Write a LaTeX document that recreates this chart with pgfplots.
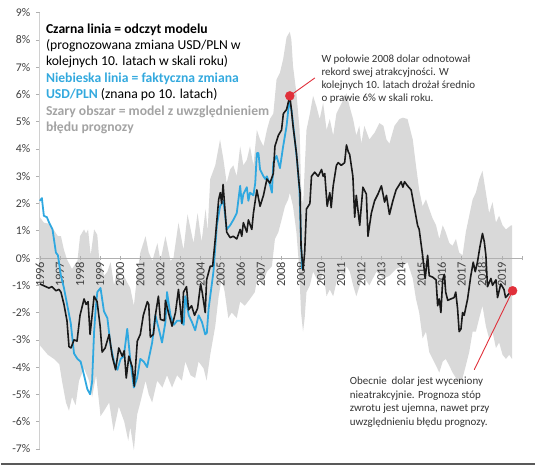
\documentclass[border=0pt]{standalone}
\usepackage{pgfplots}
\pgfplotsset{compat=1.18}
\usepackage{fontspec}
\setmainfont{Carlito}
\definecolor{bandgray}{HTML}{D9D9D9}
\definecolor{bluel}{HTML}{2FA8E0}
\definecolor{bluet}{HTML}{33A9DE}
\definecolor{grayt}{HTML}{A3A3A3}
\definecolor{redd}{HTML}{E0303A}
\definecolor{tickc}{HTML}{404040}
\definecolor{annc}{HTML}{333333}
\definecolor{axc}{HTML}{B0B0B0}
\begin{document}
\begin{tikzpicture}[x=1pt,y=1pt]
\path (0,0) rectangle (536,467);
\begin{axis}[
  set layers=standard,
  at={(39pt,16.5pt)}, anchor=south west,
  scale only axis, width=484pt, height=437.7pt,
  xmin=1996, xmax=2020, ymin=-7, ymax=9,
  clip=false,
  axis x line=middle, axis y line=left,
  axis line style={-, draw=axc, line width=0.8pt},
  y axis line style={draw=axc!60},
  hide obscured x ticks=false, hide obscured y ticks=false,
  xtick={1996,...,2020},
  xticklabels={1996,1997,1998,1999,2000,2001,2002,2003,2004,2005,2006,2007,2008,2009,2010,2011,2012,2013,2014,2015,2016,2017,2018,2019,},
  ytick={-7,...,9},
  yticklabels={-7\%,-6\%,-5\%,-4\%,-3\%,-2\%,-1\%,0\%,1\%,2\%,3\%,4\%,5\%,6\%,7\%,8\%,9\%},
  xticklabel style={rotate=90, anchor=east, font=\fontsize{12.5}{13}\selectfont, text=tickc, inner sep=1.5pt},
  yticklabel style={font=\fontsize{11.8}{12}\selectfont, text=tickc, xshift=-2pt},
  x tick style={draw=axc, line width=0.6pt},
  y tick style={draw=axc, line width=0.6pt},
  xtick align=center, ytick align=outside,
  major tick length=4pt,
]
% grey band (upper forward, lower backward)
\addplot[on layer=axis background, fill=bandgray, draw=none] coordinates {
(1996.0,1.5)(1996.2,1.3)(1996.5,1.25)(1996.9,0.8)(1997.05,0.8)(1997.2,0.3)(1997.35,-0.05)(1997.6,-0.4)(1997.87,-0.1)
(1998.0,0.8)(1998.2,1.05)(1998.3,0.9)(1998.4,1.05)(1998.53,0.1)(1998.7,1.05)(1998.86,0.85)(1998.95,0.0)
(1999.2,-0.65)(1999.36,-0.5)(1999.52,-0.15)(1999.69,-1.0)(1999.86,-0.4)(2000.02,-0.9)(2000.18,-0.65)
(2000.35,-0.9)(2000.5,-1.1)(2000.68,-1.75)(2000.84,-0.65)(2001.0,0.2)(2001.26,0.8)(2001.42,0.2)(2001.6,-0.1)
(2001.85,0.55)(2002.0,-0.1)(2002.25,0.8)(2002.5,-0.1)(2002.65,0.0)(2002.9,1.3)(2003.15,0.3)(2003.35,1.6)
(2003.65,0.55)(2003.85,1.65)(2004.05,0.6)(2004.25,1.8)(2004.35,1.0)(2004.48,2.9)(2004.73,3.4)(2004.97,4.35)
(2005.14,3.6)(2005.3,2.75)(2005.47,3.25)(2005.63,3.4)(2005.8,3.0)(2005.97,4.1)(2006.13,3.4)(2006.3,3.6)
(2006.46,4.1)(2006.63,3.4)(2006.8,4.7)(2006.96,4.35)(2007.13,4.1)(2007.3,4.7)(2007.45,5.1)(2007.62,5.3)
(2007.78,6.55)(2007.95,6.8)(2008.11,7.3)(2008.28,8.1)(2008.44,8.3)(2008.52,8.0)(2008.6,7.05)(2008.77,6.05)
(2008.93,4.7)(2009.0,2.65)(2009.1,1.9)(2009.18,3.25)(2009.27,4.7)(2009.44,5.3)(2009.6,5.95)(2009.77,5.55)
(2009.93,5.1)(2010.1,5.7)(2010.27,4.7)(2010.43,5.1)(2010.6,4.5)(2010.76,5.3)(2010.93,5.55)(2011.1,5.8)
(2011.26,6.05)(2011.42,5.55)(2011.59,5.1)(2011.75,4.5)(2011.9,4.85)(2012.0,4.2)(2012.15,4.85)(2012.4,4.35)
(2012.66,4.6)(2012.9,4.95)(2013.1,4.85)(2013.25,4.35)(2013.4,4.2)(2013.65,4.85)(2013.9,5.1)(2014.07,5.15)
(2014.3,5.1)(2014.56,4.35)(2014.72,3.4)(2014.88,2.5)(2015.05,1.9)(2015.22,2.15)(2015.38,1.8)(2015.55,1.45)
(2015.72,1.2)(2015.88,0.7)(2016.05,1.2)(2016.2,0.95)(2016.38,0.55)(2016.54,0.45)(2016.71,0.7)(2016.87,0.2)
(2017.04,0.1)(2017.2,0.95)(2017.37,1.55)(2017.54,2.15)(2017.7,2.4)(2017.87,2.9)(2018.03,3.2)(2018.2,2.4)
(2018.36,1.65)(2018.53,2.05)(2018.7,1.3)(2018.86,1.55)(2019.03,1.2)(2019.2,1.05)(2019.45,1.2)(2019.5,1.2)
(2019.5,-3.7)(2019.36,-3.55)(2019.2,-3.7)(2019.03,-3.55)(2018.86,-3.1)(2018.7,-3.3)(2018.53,-2.7)(2018.36,-2.95)
(2018.2,-2.5)(2018.03,-1.75)(2017.87,-2.2)(2017.7,-2.7)(2017.54,-2.7)(2017.37,-3.45)(2017.2,-3.95)(2017.04,-4.4)
(2016.87,-4.6)(2016.71,-4.4)(2016.54,-4.2)(2016.38,-3.95)(2016.2,-3.7)(2016.05,-3.8)(2015.88,-4.2)(2015.72,-3.95)
(2015.55,-3.7)(2015.38,-3.45)(2015.22,-2.7)(2015.05,-2.95)(2014.88,-2.0)(2014.72,-1.5)(2014.56,-0.75)(2014.3,-0.15)
(2014.07,-0.3)(2013.73,-0.4)(2013.4,-0.65)(2013.1,-0.75)(2012.75,-0.5)(2012.4,-1.0)(2012.08,-0.65)(2011.75,-1.4)
(2011.59,-1.0)(2011.43,-0.5)(2011.26,-0.3)(2011.17,-0.75)(2010.93,-0.5)(2010.76,-0.9)(2010.6,-1.4)(2010.43,-1.15)
(2010.27,-1.4)(2010.1,-0.5)(2009.93,-0.9)(2009.77,-0.75)(2009.6,-0.5)(2009.44,-1.0)(2009.27,-1.25)(2009.18,-2.2)
(2009.1,-2.7)(2009.0,-2.0)(2008.9,-0.3)(2008.77,0.95)(2008.6,1.9)(2008.44,2.4)(2008.36,2.15)(2008.2,1.9)
(2008.03,1.4)(2007.87,0.95)(2007.7,0.7)(2007.55,-0.3)(2007.3,-0.5)(2007.05,-1.0)(2006.88,-0.5)(2006.7,-1.25)
(2006.46,-1.5)(2006.2,-1.75)(2005.97,-1.6)(2005.8,-2.2)(2005.55,-2.0)(2005.38,-2.2)(2005.2,-1.25)(2005.05,-0.75)
(2004.9,-1.4)(2004.73,-2.5)(2004.48,-3.55)(2004.3,-4.5)(2004.15,-4.05)(2003.9,-3.8)(2003.73,-4.4)(2003.5,-4.3)
(2003.24,-3.8)(2003.07,-4.5)(2002.83,-4.3)(2002.58,-4.75)(2002.33,-4.3)(2002.1,-4.75)(2001.84,-4.5)(2001.59,-5.3)
(2001.42,-5.0)(2001.26,-4.5)(2001.0,-5.3)(2000.84,-5.75)(2000.68,-7.05)(2000.5,-6.2)(2000.4,-6.7)(2000.2,-6.0)
(1999.93,-5.45)(1999.8,-5.9)(1999.67,-6.35)(1999.45,-5.3)(1999.2,-5.6)(1999.02,-5.8)(1998.8,-4.3)(1998.6,-5.1)
(1998.45,-4.5)(1998.2,-4.05)(1997.95,-4.5)(1997.78,-5.4)(1997.6,-5.1)(1997.45,-5.6)(1997.3,-5.3)(1997.1,-4.5)
(1996.97,-3.9)(1996.7,-3.7)(1996.4,-3.55)(1996.0,-3.2)
} -- cycle;
% blue line: actual change
\addplot[bluel, line width=1.8pt, line join=round] coordinates {
(1996.0,2.1)(1996.1,2.2)(1996.2,1.55)(1996.35,1.5)(1996.46,1.3)(1996.63,1.05)(1996.8,0.2)(1996.9,0.1)
(1997.05,-0.65)(1997.2,-1.1)(1997.37,-1.75)(1997.54,-2.4)(1997.7,-3.5)(1997.87,-3.7)(1998.03,-3.8)(1998.2,-4.3)
(1998.36,-4.8)(1998.5,-5.0)(1998.6,-4.55)(1998.7,-2.7)(1998.78,-1.85)(1998.86,-1.25)(1999.02,-1.1)(1999.19,-1.95)
(1999.36,-2.2)(1999.52,-3.2)(1999.69,-3.8)(1999.86,-4.1)(2000.02,-3.7)(2000.18,-3.6)(2000.35,-2.6)(2000.43,-3.2)
(2000.51,-3.8)(2000.68,-4.75)(2000.84,-4.4)(2001.0,-3.7)(2001.17,-3.8)(2001.34,-4.0)(2001.42,-3.7)(2001.59,-3.1)
(2001.75,-2.1)(2001.92,-2.6)(2002.08,-3.1)(2002.25,-2.35)(2002.33,-1.25)(2002.5,-2.1)(2002.67,-2.45)(2002.83,-2.3)
(2003.0,-2.3)(2003.16,-2.45)(2003.24,-1.4)(2003.41,-2.1)(2003.57,-2.35)(2003.73,-2.65)(2003.9,-2.1)(2004.07,-2.35)
(2004.23,-2.8)(2004.31,-2.75)(2004.4,-1.85)(2004.48,-1.4)(2004.64,-0.5)(2004.81,1.2)(2004.97,1.9)(2005.14,2.1)
(2005.3,1.05)(2005.47,1.2)(2005.63,1.4)(2005.8,1.65)(2005.97,2.65)(2006.05,2.0)(2006.13,2.35)(2006.3,2.6)
(2006.38,2.1)(2006.46,2.4)(2006.63,2.3)(2006.72,2.75)(2006.8,3.85)(2006.88,3.85)(2006.96,3.25)(2007.13,3.0)
(2007.22,2.9)(2007.3,3.0)(2007.45,2.7)(2007.55,2.4)(2007.62,3.5)(2007.78,3.75)(2007.95,3.3)(2008.11,4.1)
(2008.28,4.85)(2008.41,5.75)(2008.53,5.4)(2008.65,4.6)(2008.8,3.6)(2008.92,2.5)(2009.0,0.6)(2009.05,-0.4)
};
% black line: model
\addplot[black!90, line width=1.6pt, line join=round] coordinates {
(1996.0,-0.95)(1996.15,-1.0)(1996.3,-1.05)(1996.45,-1.1)(1996.6,-1.05)(1996.8,-1.2)(1996.95,-1.15)(1997.05,-1.25)
(1997.2,-1.7)(1997.35,-2.3)(1997.45,-3.25)(1997.55,-3.3)(1997.7,-3.0)(1997.85,-3.05)(1998.0,-2.1)(1998.2,-1.5)
(1998.3,-1.7)(1998.4,-1.6)(1998.5,-2.8)(1998.7,-1.4)(1998.85,-1.6)(1999.0,-2.5)(1999.1,-3.45)(1999.25,-3.3)
(1999.45,-2.8)(1999.6,-3.6)(1999.77,-4.1)(1999.93,-3.3)(2000.1,-3.6)(2000.2,-3.4)(2000.3,-4.4)(2000.43,-3.6)
(2000.6,-4.0)(2000.7,-4.7)(2000.76,-4.0)(2000.85,-3.05)(2001.0,-2.8)(2001.15,-2.1)(2001.35,-1.6)(2001.42,-1.7)
(2001.5,-2.9)(2001.65,-2.8)(2001.75,-2.1)(2001.9,-1.4)(2002.0,-2.25)(2002.2,-2.3)(2002.25,-1.55)(2002.4,-2.0)
(2002.58,-2.5)(2002.75,-2.0)(2002.9,-1.15)(2003.07,-2.4)(2003.15,-1.25)(2003.3,-1.05)(2003.4,-1.9)(2003.55,-1.75)
(2003.7,-2.1)(2003.85,-1.85)(2004.0,-0.95)(2004.08,-1.25)(2004.23,-2.0)(2004.3,-0.8)(2004.48,-0.3)(2004.6,-0.3)
(2004.73,0.7)(2004.9,2.15)(2004.98,2.4)(2005.05,2.0)(2005.12,2.7)(2005.2,1.9)(2005.3,0.95)(2005.47,0.75)
(2005.63,0.8)(2005.8,0.7)(2005.97,1.05)(2006.05,0.8)(2006.13,1.3)(2006.3,0.95)(2006.38,1.4)(2006.55,1.05)
(2006.63,1.65)(2006.8,2.5)(2006.96,1.9)(2007.13,2.3)(2007.3,2.9)(2007.45,2.75)(2007.62,3.1)(2007.7,4.1)
(2007.87,4.5)(2008.03,4.7)(2008.12,5.3)(2008.28,5.45)(2008.44,5.95)(2008.52,5.45)(2008.6,4.85)(2008.77,3.85)
(2008.9,2.75)(2008.95,2.4)(2009.0,0.45)(2009.1,-0.45)(2009.18,0.2)(2009.27,1.8)(2009.44,2.0)(2009.52,3.0)
(2009.68,3.15)(2009.85,3.0)(2010.02,3.25)(2010.1,3.0)(2010.18,3.1)(2010.3,1.9)(2010.43,2.4)(2010.5,1.85)
(2010.6,2.65)(2010.76,3.4)(2010.85,3.5)(2011.0,3.4)(2011.17,3.5)(2011.26,4.15)(2011.35,3.9)(2011.42,3.8)
(2011.58,3.0)(2011.67,1.5)(2011.75,2.3)(2011.92,1.2)(2012.08,2.6)(2012.25,2.35)(2012.33,0.8)(2012.5,1.65)
(2012.66,2.1)(2012.83,2.35)(2013.0,2.65)(2013.16,2.05)(2013.25,2.3)(2013.4,1.6)(2013.57,2.1)(2013.73,2.5)
(2013.9,2.7)(2013.98,2.8)(2014.07,2.6)(2014.15,2.8)(2014.3,2.65)(2014.48,2.5)(2014.64,1.85)(2014.8,1.2)
(2014.88,1.05)(2015.05,0.1)(2015.18,-0.75)(2015.3,0.1)(2015.38,-0.65)(2015.55,-0.7)(2015.72,-0.8)(2015.8,-1.75)
(2015.88,-1.5)(2015.96,-2.0)(2016.05,-0.8)(2016.13,-0.6)(2016.2,-1.25)(2016.3,-1.55)(2016.46,-1.5)(2016.62,-1.45)
(2016.7,-1.25)(2016.79,-1.85)(2016.87,-2.7)(2016.96,-2.6)(2017.04,-2.0)(2017.12,-2.1)(2017.29,-1.5)(2017.45,-0.65)
(2017.57,-0.15)(2017.67,-0.5)(2017.78,-0.15)(2017.9,0.4)(2018.03,0.9)(2018.12,0.6)(2018.2,0.1)(2018.28,-1.05)
(2018.45,-0.75)(2018.53,-1.0)(2018.7,-0.8)(2018.78,-1.45)(2018.94,-0.95)(2019.1,-1.15)(2019.18,-1.45)(2019.36,-1.3)
(2019.53,-1.2)
};
% connectors
\draw[redd, line width=0.9pt] (axis cs:2008.44,5.95) -- (axis cs:2009.69,6.61);
\draw[redd, line width=0.9pt] (axis cs:2019.53,-1.2) -- (axis cs:2017.62,-4.10);
% red dots
\addplot[only marks, mark=*, mark size=4.5pt, mark options={fill=redd, draw=redd}] coordinates {(2008.44,5.95)(2019.53,-1.2)};
\end{axis}
% legend text
\begin{scope}[every node/.style={anchor=base west, inner sep=0pt, font=\fontsize{13.7}{16}\selectfont}]
\node at (45,433.7) {\bfseries Czarna linia = odczyt modelu};
\node at (45,417.3) {(prognozowana zmiana USD/PLN w};
\node at (45,401) {kolejnych 10. latach w skali roku)};
\node[text=bluet] at (45,384) {\bfseries Niebieska linia = faktyczna zmiana};
\node at (45,368) {\textcolor{bluet}{\bfseries USD/PLN} (znana po 10. latach)};
\node[text=grayt] at (45,351.3) {\bfseries Szary obszar = model z uwzględnieniem};
\node[text=grayt] at (45,335.3) {\bfseries błędu prognozy};
\end{scope}
\begin{scope}[every node/.style={anchor=base west, inner sep=0pt, text=annc, font=\fontsize{11}{13}\selectfont}]
\node at (321.5,404.7) {W połowie 2008 dolar odnotował};
\node at (321.5,391.3) {rekord swej atrakcyjności. W};
\node at (321.5,378) {kolejnych 10. latach drożał średnio};
\node at (321.5,364.7) {o prawie 6\% w skali roku.};
\node at (350,80.7) {Obecnie\ \ dolar jest wyceniony};
\node at (350,67.3) {nieatrakcyjnie. Prognoza stóp};
\node at (350,54) {zwrotu jest ujemna, nawet przy};
\node at (350,39.7) {uwzględnieniu błędu prognozy.};
\end{scope}
\draw[black!65, line width=2pt] (0,1) -- (536,1);
\end{tikzpicture}
\end{document}
